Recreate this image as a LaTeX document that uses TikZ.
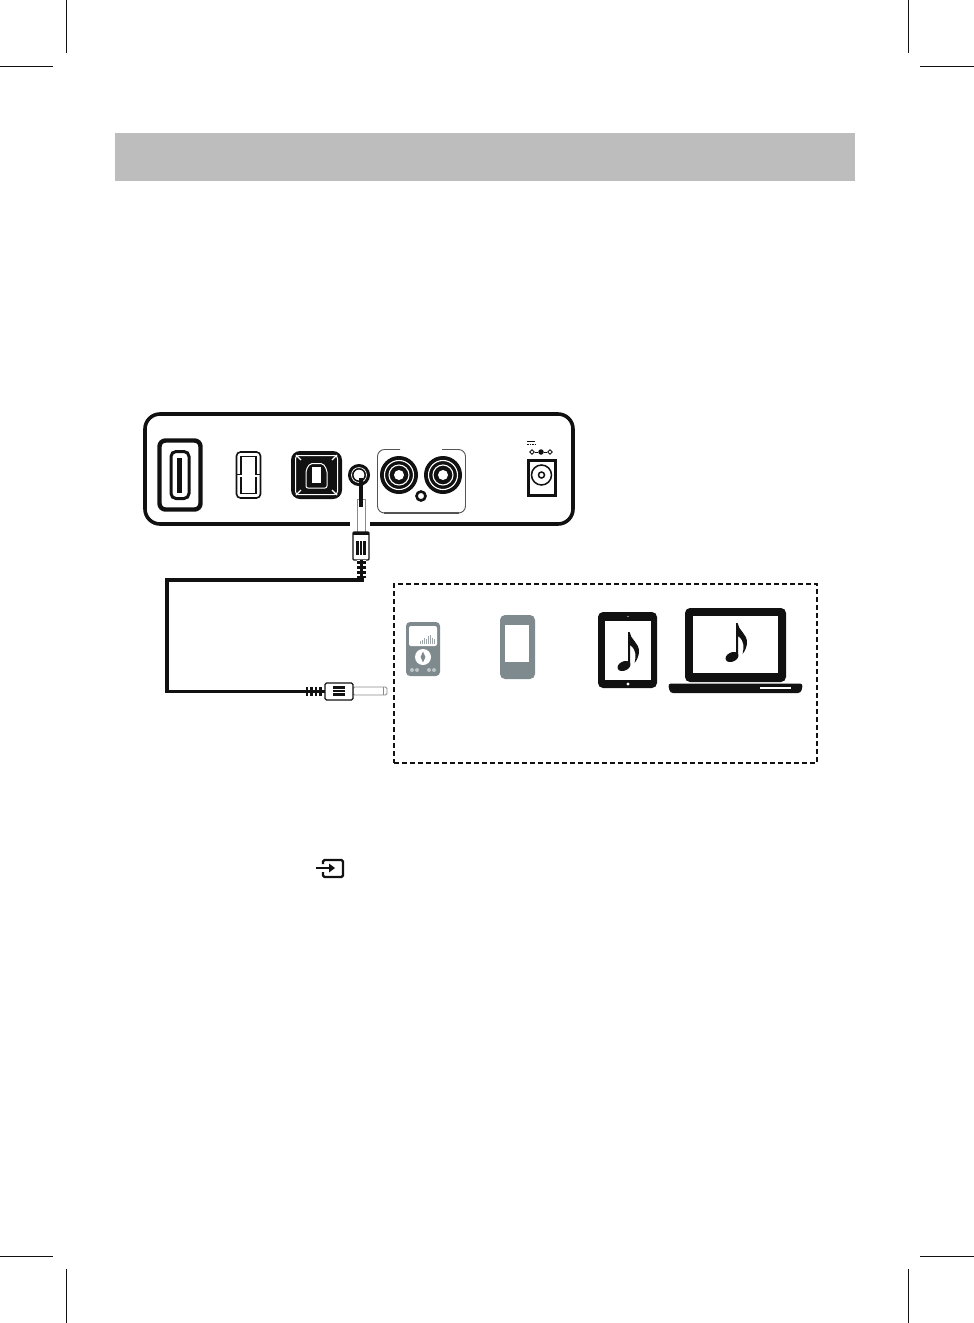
\documentclass[tikz,border=0pt]{standalone}
\usepackage{xcolor}
\usetikzlibrary{calc,shapes.geometric}
\definecolor{band}{HTML}{BDBDBD}
\definecolor{ink}{HTML}{111111}
\definecolor{devgrey}{HTML}{7F8A8F}
\definecolor{sleevegrey}{HTML}{8A8A8A}
\definecolor{rimgrey}{HTML}{555555}
\newcommand{\notemark}[2]{%
  \begin{scope}[shift={(#1,#2)}]
    \fill[ink] (-1,0) -- (0.6,0) .. controls (1,7) and (10.5,11) .. (10,20) .. controls (9.8,24) and (8,28) .. (5.5,31)
      .. controls (7,25) and (8,18) .. (1,13) -- (1,32) -- (-1,34) -- cycle;
    \fill[ink,rotate around={25:(-5,34)}] (-5,34) ellipse (6.8 and 4.6);
  \end{scope}}
\begin{document}
\begin{tikzpicture}[x=1pt,y=-1pt,
  crop/.style={line width=0.7pt,color=ink},
  boxed/.style={draw=ink,fill=white,inner sep=0pt,outer sep=0pt},
  solid/.style={fill=ink,inner sep=0pt,outer sep=0pt},
  device/.style={fill=devgrey,inner sep=0pt,outer sep=0pt,rounded corners=4pt},
  blank/.style={fill=white,inner sep=0pt,outer sep=0pt},
  sleeve/.style={draw=sleevegrey,fill=white,line width=0.9pt,inner sep=0pt,outer sep=0pt},
  wire/.style={draw=ink,line width=3.6pt}]
  \useasboundingbox (0,0) rectangle (974,1323);
  % crop marks
  \draw[crop] (66,0) -- (66,53); \draw[crop] (0,66) -- (53,66);
  \draw[crop] (908,0) -- (908,53); \draw[crop] (920,66) -- (974,66);
  \draw[crop] (66,1269) -- (66,1323); \draw[crop] (0,1256) -- (53,1256);
  \draw[crop] (908,1269) -- (908,1323); \draw[crop] (920,1256) -- (974,1256);
  \node[fill=band,minimum width=740pt,minimum height=48pt,inner sep=0pt] (header) at (485,157) {};
  % back panel
  \node[boxed,line width=3.6pt,rounded corners=15pt,minimum width=428pt,minimum height=110pt] (panel) at (359,469) {};
  \node[blank,minimum width=20pt,minimum height=7pt] (panelgap) at (360,525) {};
  % hdmi
  \node[boxed,line width=4.4pt,rounded corners=6pt,minimum width=41pt,minimum height=69pt] (hdmi) at (180,475) {};
  \node[boxed,line width=3pt,rounded corners=5pt,minimum width=18pt,minimum height=47pt] (hdmiin) at (180,475) {};
  \node[solid,minimum width=5pt,minimum height=35pt] (hdmibar) at (179.5,475) {};
  % usb
  \node[boxed,line width=1.6pt,rounded corners=4pt,minimum width=24pt,minimum height=46pt] (usb) at (248.5,475) {};
  \draw[ink,line width=1.6pt] (236,474.5) -- (241,474.5) -- (241,456.5) -- (256,456.5) -- (256,474.5) -- (261,474.5);
  \draw[ink,line width=1.6pt] (241,476.5) -- (241,493.5) -- (256,493.5) -- (256,476.5);
  \draw[white,line width=1.2pt] (241,475.5) -- (256,475.5);
  % optical
  \node[solid,rounded corners=9pt,minimum width=51pt,minimum height=48pt] (optical) at (316.5,475) {};
  \node[draw=white,line width=1pt,inner sep=0pt,minimum width=42pt,minimum height=39pt,rounded corners=3pt] (opticalin) at (316.5,475) {};
  \node[solid,minimum width=38pt,minimum height=34.5pt] (opticalblock) at (316.5,475) {};
  \foreach \cx/\cy/\dx/\dy in {296/455/5/5,337/455/-5/5,296/495/5/-5,337/495/-5/-5}
    \draw[white,line width=1.1pt] (\cx,\cy) -- ++(\dx,\dy);
  \draw[white,line width=1pt,rounded corners=2pt] (306,488) -- (306,470) -- (310,463.5) -- (323,463.5) -- (327,470) -- (327,488) -- cycle;
  \node[blank,minimum width=9pt,minimum height=16pt] (opticalcore) at (316.5,474.5) {};
  % aux jack
  \node[circle,boxed,line width=5.5pt,minimum size=16.5pt] (auxjack) at (359,475) {};
  \node[circle,draw=white,line width=0.7pt,inner sep=0pt,minimum size=15pt] (auxring) at (359,475) {};
  % rca group
  \draw[rimgrey,line width=0.9pt,rounded corners=7pt] (400,449.5) -- (377.5,449.5) -- (377.5,513) -- (465.5,513) -- (465.5,449.5) -- (442,449.5);
  \draw[rimgrey,line width=1.5pt] (384,513) -- (459,513);
  \foreach \nm/\cx in {rcal/399,rcar/443}{
    \node[circle,solid,minimum size=38pt] (\nm) at (\cx,475) {};
    \node[circle,draw=white,line width=1.1pt,inner sep=0pt,minimum size=29pt] (\nm a) at (\cx,475) {};
    \node[circle,blank,minimum size=10pt] (\nm b) at (\cx,475) {};
    \node[circle,draw=white,line width=1.1pt,inner sep=0pt,minimum size=20pt] (\nm c) at (\cx,475) {};
  }
  \node[circle,boxed,line width=2.6pt,minimum size=9pt] (rcadot) at (421,496) {};
  % dc jack
  \node[boxed,line width=3pt,minimum width=27pt,minimum height=35pt] (dcjack) at (541.5,478) {};
  \node[circle,boxed,line width=1.5pt,minimum size=20pt] (dcring) at (541.5,475) {};
  \node[circle,boxed,line width=1.5pt,minimum size=6pt] (dcpin) at (541.5,475) {};
  \draw[ink,line width=0.9pt] (527,441.5) -- (535,441.5);
  \draw[ink,line width=0.9pt,dash pattern=on 1.5pt off 1pt] (527,444.3) -- (535,444.3);
  \node[diamond,draw=ink,line width=0.9pt,inner sep=0pt,minimum size=5pt] (dcneg) at (532,452) {};
  \node[circle,solid,minimum size=5.5pt] (dcmid) at (541,452) {};
  \node[diamond,draw=ink,line width=0.9pt,inner sep=0pt,minimum size=5pt] (dcpos) at (550,452) {};
  \draw[ink,line width=0.9pt] (dcneg) -- (dcmid); \draw[ink,line width=0.9pt] (dcmid) -- (dcpos);
  % top plug
  \node[sleeve,minimum width=8pt,minimum height=33pt] (topsleeve) at (361,516) {};
  \draw[ink,line width=3.8pt] (361,478) -- (361,507);
  \node[boxed,line width=1.3pt,rounded corners=1pt,minimum width=16pt,minimum height=28pt] (topbody) at (361,546) {};
  \fill[ink] (353,532) rectangle (369,534.5);
  \node[solid,minimum width=10pt,minimum height=14pt] (topstripe) at (361,548) {};
  \foreach \sx in {359.5,362.5} \draw[white,line width=0.9pt] (\sx,541) -- (\sx,555);
  \node[blank,minimum width=9pt,minimum height=22pt] (toprelief) at (361.5,571) {};
  \foreach \sy in {562.5,567.5,572.5,577} \draw[ink,line width=2.4pt] (357,\sy) -- (366,\sy);
  \draw[ink,line width=3pt] (361.5,560) -- (361.5,580);
  % cable
  \coordinate (cablein) at (364,580);
  \coordinate (cabletop) at (167,580);
  \coordinate (cablebot) at (167,691.5);
  % lower plug
  \node[sleeve,rounded corners=1.5pt,minimum width=34pt,minimum height=8pt] (lowsleeve) at (370,691) {};
  \draw[sleevegrey,line width=0.7pt] (383,687) -- (383,695);
  \node[blank,minimum width=20pt,minimum height=9pt] (lowrelief) at (315,691.5) {};
  \draw[wire] (cablein) -- (cabletop) -- (cablebot) -- (lowrelief.center);
  \foreach \sx in {307,311.5,316,320.5} \draw[ink,line width=2.2pt] (\sx,687) -- (\sx,696);
  \draw[ink,line width=3pt] (305,691.5) -- (325,691.5);
  \node[boxed,line width=1.3pt,rounded corners=1.5pt,minimum width=28pt,minimum height=17pt] (lowbody) at (339,691.5) {};
  \node[solid,minimum width=12pt,minimum height=10pt] (lowstripe) at (339,691) {};
  \foreach \sy in {689.5,692.5} \draw[white,line width=0.9pt] (333,\sy) -- (345,\sy);
  % source group
  \node[draw=ink,line width=1.3pt,dash pattern=on 5pt off 3pt,inner sep=0pt,minimum width=423pt,minimum height=179pt] (sources) at (605.5,673.5) {};
  % player
  \node[device,minimum width=34pt,minimum height=54pt] (player) at (423,649) {};
  \node[blank,rounded corners=2pt,minimum width=28pt,minimum height=20pt] (playerscreen) at (423,636) {};
  \foreach \bx/\bh in {420/3,422/4,424/6,426/5,428/8,430/9,432/6,434/5}
    \fill[devgrey!75] (\bx,644) rectangle ++(1,-\bh);
  \node[circle,blank,minimum size=16pt] (playerwheel) at (423,657) {};
  \node[diamond,fill=devgrey,inner sep=0pt,minimum width=5pt,minimum height=11pt] (playerpad) at (423,657) {};
  \foreach \bx in {412,417,429,434}
    \fill[devgrey!50] (\bx,670) circle (2);
  % phone
  \node[device,rounded corners=5pt,minimum width=35pt,minimum height=64pt] (phone) at (517.5,647) {};
  \node[blank,minimum width=24pt,minimum height=37pt] (phonescreen) at (517,643.5) {};
  % tablet
  \node[solid,rounded corners=5pt,minimum width=59pt,minimum height=76pt] (tablet) at (627.5,650) {};
  \node[blank,minimum width=46pt,minimum height=59pt] (tabletscreen) at (628,650.5) {};
  \node[circle,blank,minimum size=1.4pt] (tabletcam) at (628,616.5) {};
  \node[circle,blank,minimum size=3.4pt] (tablethome) at (628,684) {};
  \notemark{629}{632}
  % laptop
  \node[solid,rounded corners=5pt,minimum width=101pt,minimum height=74pt] (laptop) at (735.5,645) {};
  \node[blank,minimum width=85pt,minimum height=57pt] (laptopscreen) at (735.5,644.5) {};
  \fill[ink,rounded corners=3pt] (668,683.5) -- (803,683.5) -- (801,693) -- (670,693) -- cycle;
  \node[blank,minimum width=31pt,minimum height=2.4pt] (laptopslit) at (775.5,688) {};
  \notemark{737}{623}
  % input icon
  \draw[ink,line width=2.4pt,rounded corners=1.5pt] (323,864) -- (323,860) -- (343,860) -- (343,877) -- (323,877) -- (323,872);
  \coordinate (inputstart) at (316,868);
  \coordinate (inputend) at (333,868);
  \draw[ink,line width=2.2pt] (inputstart) -- (inputend);
  \fill[ink] (329,863.5) -- (335,868) -- (329,872.5) -- cycle;
\end{tikzpicture}
\end{document}
